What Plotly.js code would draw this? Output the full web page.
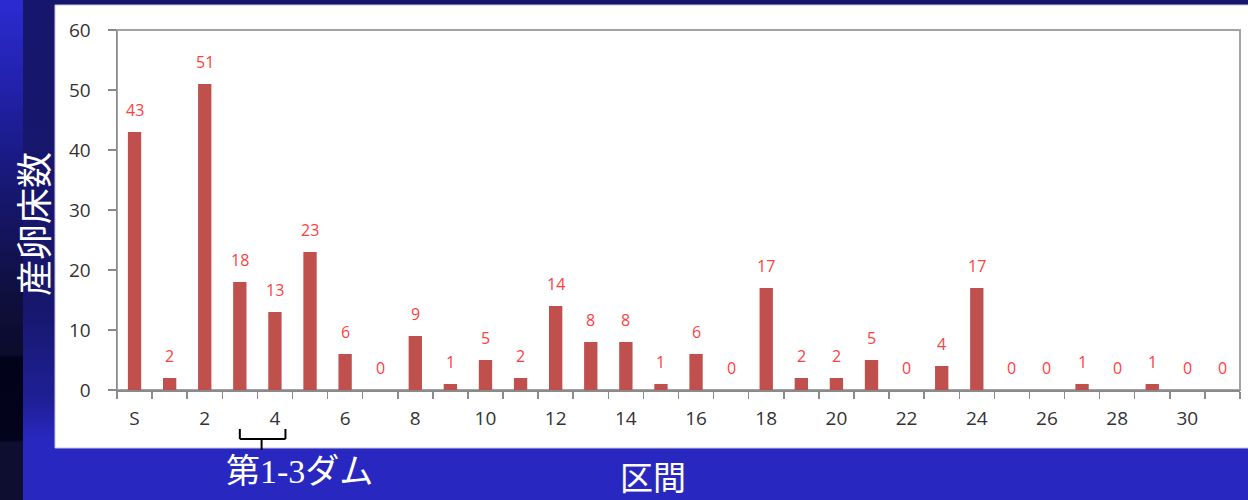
<!DOCTYPE html>
<html>
<head>
<meta charset="utf-8">
<script src="https://cdn.plot.ly/plotly-3.0.1.min.js"></script>
<style>
  html, body { margin: 0; padding: 0; }
  body {
    width: 1248px; height: 500px; overflow: hidden;
    background:
      linear-gradient(to bottom, #2b2bd2 0%, #2020a4 20%, #16166c 40%, #0f0f3c 60%, #0b0b2c 71%, #02021a 71.5%, #03031c 88%, #0e0e30 88.5%, #0e0e30 100%) 0 0 / 23px 100% no-repeat,
      linear-gradient(to bottom, #16166c 0%, #17176e 62%, #1f1f96 80%, #2828c0 88%, #2828c0 100%);
  }
  #chart { width: 1248px; height: 500px; }
</style>
</head>
<body>
<div id="chart"></div>
<script>
// Redd counts per river section
var sections = ['S','1','2','3','4','5','6','7','8','9','10','11','12','13','14','15',
                '16','17','18','19','20','21','22','23','24','25','26','27','28','29','30','31'];
var reddCounts = [43,2,51,18,13,23,6,0,9,1,5,2,14,8,8,1,6,0,17,2,2,5,0,4,17,0,0,1,0,1,0,0];
var tickLabels = ['S','','2','','4','','6','','8','','10','','12','','14','',
                  '16','','18','','20','','22','','24','','26','','28','','30',''];
var yTicks = [0,10,20,30,40,50,60];

var W = 1248, H = 500;
var M = {l: 117, r: 8, t: 30, b: 110};
var PW = W - M.l - M.r, PH = H - M.t - M.b;
function px2x(p) { return (p - M.l) / PW; }
function px2y(p) { return (H - M.b - p) / PH; }

var bar = {
  type: 'bar',
  x: sections,
  y: reddCounts,
  marker: {color: '#C0504D', line: {width: 0}},
  hoverinfo: 'x+y'
};

// value labels above each bar
var valueNotes = sections.map(function (s, i) {
  return {
    x: s, y: reddCounts[i], xref: 'x', yref: 'y',
    text: String(reddCounts[i]), showarrow: false,
    yanchor: 'bottom', yshift: 9,
    font: {family: '"Open Sans", Lato, sans-serif', size: 16, color: '#FF4040'}
  };
});

var titleNotes = [
  {
    xref: 'paper', yref: 'paper', x: px2x(32), y: px2y(224),
    text: '産卵床数', textangle: -90, showarrow: false,
    xanchor: 'center', yanchor: 'middle',
    font: {family: '"Noto Sans CJK JP", sans-serif', size: 36, color: '#ffffff'}
  },
  {
    xref: 'paper', yref: 'paper', x: px2x(653), y: px2y(476),
    text: '区間', showarrow: false, xanchor: 'center', yanchor: 'middle',
    font: {family: '"Noto Sans CJK JP", sans-serif', size: 33, color: '#ffffff'}
  },
  {
    xref: 'paper', yref: 'paper', x: px2x(299), y: px2y(471),
    text: '第1-3ダム', showarrow: false, xanchor: 'center', yanchor: 'middle',
    font: {family: '"Liberation Serif", "Noto Sans CJK JP", serif', size: 34, color: '#ffffff'}
  }
];

// bracket under sections 3-4
var bTop = px2y(429), bMid = px2y(439), bLow = px2y(450);
var bLeft = 3, bRight = 4.3, bCenter = 3.62;
var bracket = [
  [bLeft, bTop, bLeft, bMid],
  [bLeft, bMid, bRight, bMid],
  [bRight, bMid, bRight, bTop],
  [bCenter, bMid, bCenter, bLow]
].map(function (s) {
  return {type: 'line', xref: 'x', yref: 'paper', x0: s[0], y0: s[1], x1: s[2], y1: s[3],
          line: {color: '#000000', width: 2}, layer: 'above'};
});

var shapes = [
  // white chart card
  {type: 'rect', xref: 'paper', yref: 'paper', layer: 'below',
   x0: px2x(55), x1: px2x(1249), y0: px2y(448), y1: px2y(5),
   fillcolor: '#ffffff', line: {color: '#c4c4ea', width: 1}},
  // plot frame
  {type: 'rect', xref: 'paper', yref: 'paper', layer: 'below',
   x0: 0, x1: 1, y0: 0, y1: 1,
   fillcolor: 'rgba(0,0,0,0)', line: {color: '#a3a3a3', width: 2}}
].concat(bracket);

var layout = {
  width: W, height: H,
  margin: M,
  paper_bgcolor: 'rgba(0,0,0,0)',
  plot_bgcolor: 'rgba(0,0,0,0)',
  showlegend: false,
  bargap: 0.62,
  xaxis: {
    type: 'category',
    range: [-0.5, sections.length - 0.5],
    tickmode: 'array', tickvals: sections, ticktext: tickLabels,
    tickson: 'boundaries', ticks: 'outside', ticklen: 7, tickwidth: 1.5, tickcolor: '#8a8a8a',
    showline: true, linecolor: '#8a8a8a', linewidth: 1.5,
    showgrid: false, zeroline: false,
    tickfont: {family: '"Open Sans", Lato, sans-serif', size: 19, color: '#333333'},
    ticklabelstandoff: 11
  },
  yaxis: {
    range: [0, 60], tickmode: 'array', tickvals: yTicks,
    ticks: 'outside', ticklen: 8, tickwidth: 1.5, tickcolor: '#8a8a8a',
    showline: true, linecolor: '#8a8a8a', linewidth: 1.5,
    showgrid: false, zeroline: false,
    tickfont: {family: '"Open Sans", Lato, sans-serif', size: 19, color: '#333333'},
    ticklabelstandoff: 13
  },
  shapes: shapes,
  annotations: valueNotes.concat(titleNotes)
};

Plotly.newPlot('chart', [bar], layout, {displayModeBar: false, staticPlot: true});
</script>
</body>
</html>
